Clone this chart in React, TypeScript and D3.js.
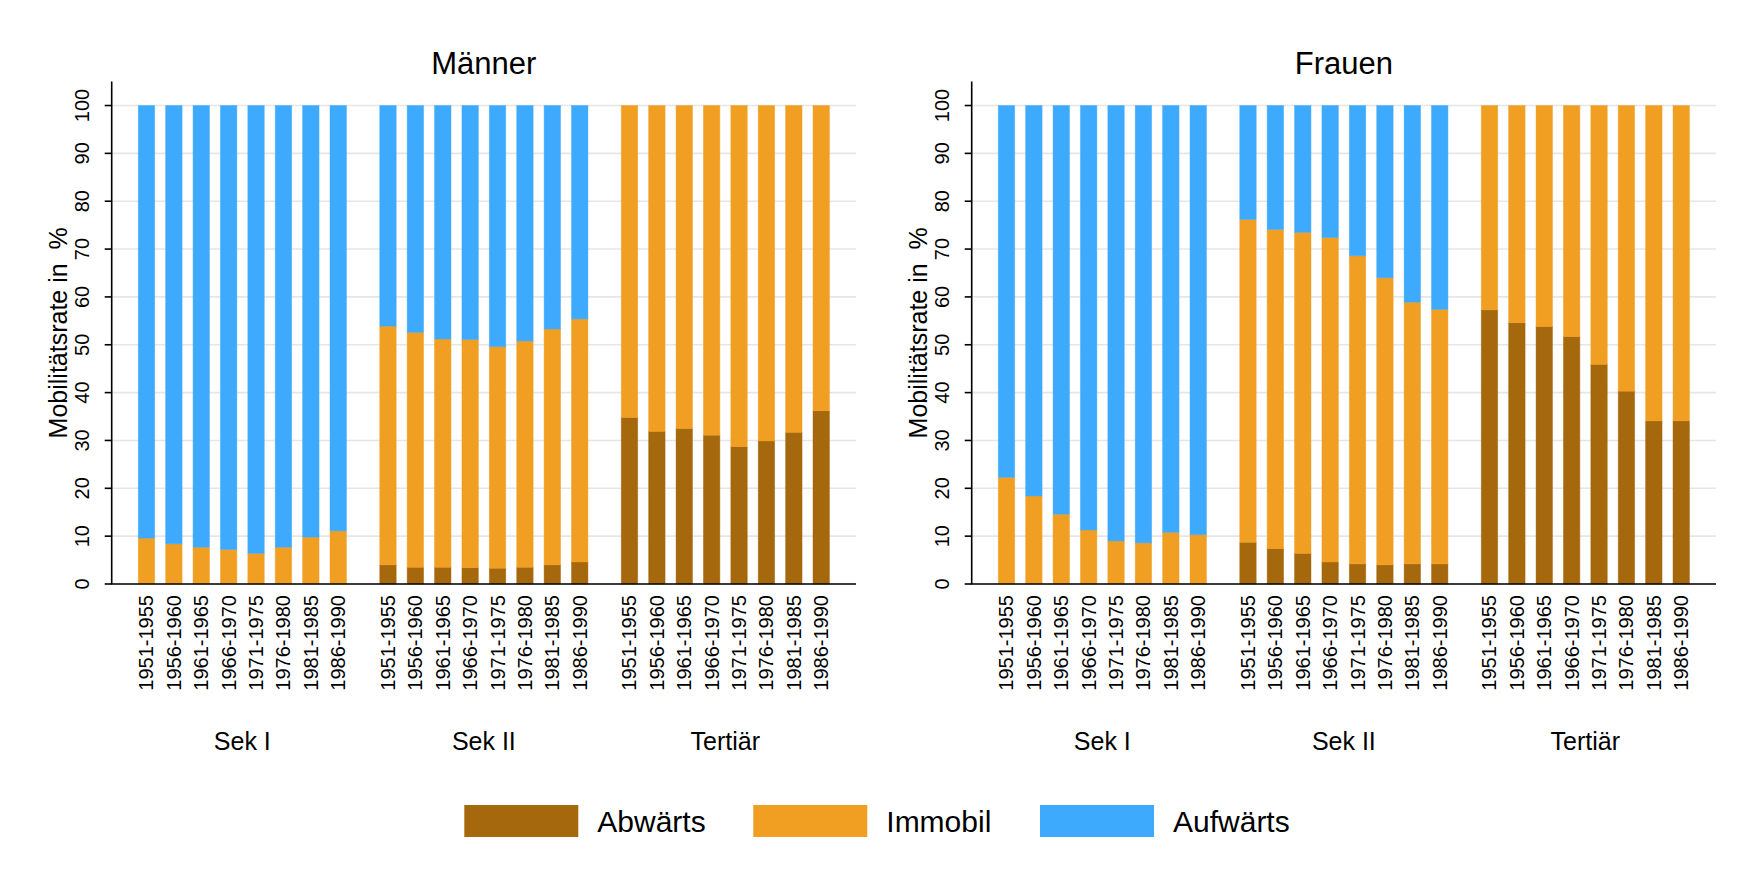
import React from "react";
import * as d3 from "d3";

const periods = ["1951-1955", "1956-1960", "1961-1965", "1966-1970", "1971-1975", "1976-1980", "1981-1985", "1986-1990"];
const groups = ["Sek I", "Sek II", "Tertiär"];
const seriesNames = ["Abwärts", "Immobil", "Aufwärts"];
const seriesColors = ["#a5680c", "#f09f23", "#3eaafd"];
const yTicks = [0, 10, 20, 30, 40, 50, 60, 70, 80, 90, 100];

// Männer
const mSek1Abw = [0, 0, 0, 0, 0, 0, 0, 0];
const mSek1Imm = [9.6, 8.4, 7.7, 7.2, 6.4, 7.7, 9.8, 11.1];
const mSek1Auf = [90.4, 91.6, 92.3, 92.8, 93.6, 92.3, 90.2, 88.9];
const mSek2Abw = [4.0, 3.5, 3.5, 3.4, 3.3, 3.5, 4.0, 4.6];
const mSek2Imm = [49.9, 49.1, 47.7, 47.7, 46.3, 47.3, 49.3, 50.8];
const mSek2Auf = [46.1, 47.4, 48.8, 48.9, 50.4, 49.2, 46.7, 44.6];
const mTertAbw = [34.8, 31.9, 32.5, 31.1, 28.7, 29.9, 31.7, 36.2];
const mTertImm = [65.2, 68.1, 67.5, 68.9, 71.3, 70.1, 68.3, 63.8];
const mTertAuf = [0, 0, 0, 0, 0, 0, 0, 0];

// Frauen
const fSek1Abw = [0, 0, 0, 0, 0, 0, 0, 0];
const fSek1Imm = [22.3, 18.4, 14.6, 11.3, 9.0, 8.6, 10.8, 10.3];
const fSek1Auf = [77.7, 81.6, 85.4, 88.7, 91.0, 91.4, 89.2, 89.7];
const fSek2Abw = [8.7, 7.4, 6.4, 4.6, 4.2, 4.0, 4.2, 4.2];
const fSek2Imm = [67.5, 66.7, 67.1, 67.8, 64.4, 60.0, 54.7, 53.2];
const fSek2Auf = [23.8, 25.9, 26.5, 27.6, 31.4, 36.0, 41.1, 42.6];
const fTertAbw = [57.3, 54.6, 53.8, 51.7, 45.9, 40.3, 34.1, 34.1];
const fTertImm = [42.7, 45.4, 46.2, 48.3, 54.1, 59.7, 65.9, 65.9];
const fTertAuf = [0, 0, 0, 0, 0, 0, 0, 0];

const panels = [
  {
    title: "Männer",
    data: [
      [mSek1Abw, mSek1Imm, mSek1Auf],
      [mSek2Abw, mSek2Imm, mSek2Auf],
      [mTertAbw, mTertImm, mTertAuf],
    ],
  },
  {
    title: "Frauen",
    data: [
      [fSek1Abw, fSek1Imm, fSek1Auf],
      [fSek2Abw, fSek2Imm, fSek2Auf],
      [fTertAbw, fTertImm, fTertAuf],
    ],
  },
];

const W = 1759;
const H = 879;
const FONT = "'Liberation Sans', Arial, Helvetica, sans-serif";
const panelX0 = [111.7, 971.7];
const panelWidth = 744.3;
const y = d3.scaleLinear().domain([0, 105]).range([584, 81.6]);

function Panel({ p, x0 }: { p: typeof panels[0]; x0: number }) {
  const x1 = x0 + panelWidth;
  const gx = d3.scaleBand<string>().domain(groups).range([x0, x1]).paddingInner(0.138).paddingOuter(0.11);
  const bx = d3.scaleBand<string>().domain(periods).range([0, gx.bandwidth()]).paddingInner(0.4).paddingOuter(0);
  const keys = ["abw", "imm", "auf"];
  const rows: any[] = [];
  groups.forEach((g, gi) => {
    periods.forEach((per, pi) => {
      rows.push({ group: g, period: per, abw: p.data[gi][0][pi], imm: p.data[gi][1][pi], auf: p.data[gi][2][pi] });
    });
  });
  const stacked = d3.stack<any>().keys(keys)(rows);
  const cx = (r: any) => (gx(r.group) as number) + (bx(r.period) as number);
  return (
    <g>
      <text x={(x0 + x1) / 2} y={74} textAnchor="middle" fontSize={31} fontFamily={FONT} fill="#000">
        {p.title}
      </text>
      {yTicks.map((t) => (
        <line key={"g" + t} x1={x0} x2={x1} y1={y(t)} y2={y(t)} stroke="#e6e6e6" strokeWidth={1.6} />
      ))}
      {stacked.map((layer, si) =>
        layer.map((d, i) => {
          const h = y(d[0]) - y(d[1]);
          if (h <= 0) return null;
          return (
            <rect
              key={si + "-" + i}
              x={cx(d.data)}
              width={bx.bandwidth()}
              y={y(d[1])}
              height={h}
              fill={seriesColors[si]}
              stroke={seriesColors[si]}
              strokeOpacity={0.55}
              strokeWidth={0.8}
            />
          );
        })
      )}
      <line x1={x0} x2={x0} y1={y(105)} y2={y(0)} stroke="#000" strokeWidth={1.6} />
      <line x1={x0 - 0.8} x2={x1} y1={y(0)} y2={y(0)} stroke="#000" strokeWidth={1.6} />
      {yTicks.map((t) => (
        <g key={"t" + t}>
          <line x1={x0 - 7} x2={x0} y1={y(t)} y2={y(t)} stroke="#000" strokeWidth={1.6} />
          <text
            transform={`translate(${x0 - 30},${y(t)}) rotate(-90)`}
            textAnchor="middle"
            dy="0.35em"
            fontSize={20}
            fontFamily={FONT}
            fill="#000"
          >
            {t}
          </text>
        </g>
      ))}
      <text
        transform={`translate(${x0 - 53},${(y(105) + y(0)) / 2}) rotate(-90)`}
        textAnchor="middle"
        dy="0.35em"
        fontSize={25}
        fontFamily={FONT}
        fill="#000"
        style={{ whiteSpace: "pre" }}
      >
        {"Mobilitätsrate in  %"}
      </text>
      {rows.map((r, i) => (
        <text
          key={"xl" + i}
          transform={`translate(${cx(r) + bx.bandwidth() / 2},${595}) rotate(-90)`}
          textAnchor="end"
          dy="0.35em"
          fontSize={20}
          fontFamily={FONT}
          fill="#000"
        >
          {r.period}
        </text>
      ))}
      {groups.map((g) => (
        <text
          key={"gl" + g}
          x={(gx(g) as number) + gx.bandwidth() / 2}
          y={750}
          textAnchor="middle"
          fontSize={25}
          fontFamily={FONT}
          fill="#000"
        >
          {g}
        </text>
      ))}
    </g>
  );
}

const legendSwatchX = [464.3, 753.3, 1040];

export default function App() {
  return (
    <svg
      width={W}
      height={H}
      viewBox={`0 0 ${W} ${H}`}
      style={{ position: "absolute", left: 0, top: 0, background: "#fff" }}
    >
      <rect x={0} y={0} width={W} height={H} fill="#fff" />
      {panels.map((p, i) => (
        <Panel key={p.title} p={p} x0={panelX0[i]} />
      ))}
      {seriesNames.map((s, i) => (
        <g key={s}>
          <rect x={legendSwatchX[i]} y={805} width={114} height={32} fill={seriesColors[i]} />
          <text x={legendSwatchX[i] + 133} y={832} fontSize={30} fontFamily={FONT} fill="#000">
            {s}
          </text>
        </g>
      ))}
    </svg>
  );
}
